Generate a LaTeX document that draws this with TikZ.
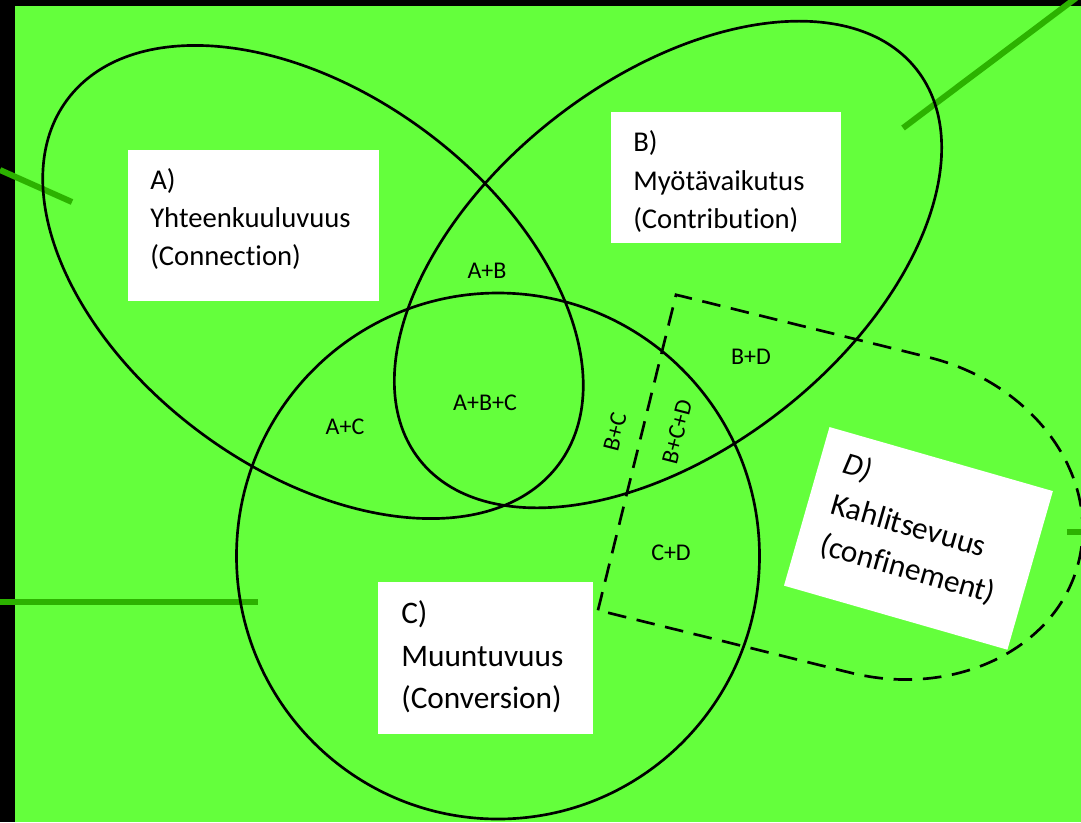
\documentclass[tikz,border=0pt]{standalone}
\usepackage{fontspec}
\setmainfont{Carlito}[Ligatures=NoCommon]
\definecolor{bggreen}{RGB}{100,255,60}
\definecolor{bargreen}{RGB}{44,178,0}
\tikzset{
  venn/.style={draw=black, line width=2pt},
  dashedset/.style={draw=black, line width=2pt, dash pattern=on 14pt off 8pt},
  greenbar/.style={draw=bargreen, line width=4.5pt},
  wbox/.style={fill=white, draw=none, inner sep=0pt},
  bigtxt/.style={inner sep=0pt, anchor=base west, font=\fontsize{21.5}{26}\selectfont},
  cdtxt/.style={inner sep=0pt, anchor=base west, font=\fontsize{23.5}{28}\selectfont},
  smalltxt/.style={inner sep=0pt, font=\fontsize{18}{22}\selectfont},
}
\begin{document}
\begin{tikzpicture}[x=0.75pt,y=-0.75pt]
\useasboundingbox (0,0) rectangle (1081,822);
\fill[bggreen] (0,0) rectangle (1081,822);
\fill[black] (0,0) rectangle (1081,6);
\fill[black] (0,0) rectangle (15,822);
\begin{scope}
\clip (0,0) rectangle (1081,822);
% green bars
\coordinate (g1a) at (0,170);   \coordinate (g1b) at (72,202);
\coordinate (g2a) at (903,128); \coordinate (g2b) at (1076,-2);
\coordinate (g3a) at (0,602);   \coordinate (g3b) at (258,602);
\coordinate (g4a) at (1067,532); \coordinate (g4b) at (1085,532);
\draw[greenbar] (g1a) -- (g1b);
\draw[greenbar] (g2a) -- (g2b);
\draw[greenbar] (g3a) -- (g3b);
\draw[greenbar] (g4a) -- (g4b);
% sets
\draw[venn, rotate around={-36.5:(313,282)}] (313,282) ellipse [x radius=306, y radius=188];
\draw[venn, rotate around={38.1:(668,264.5)}] (668,264.5) ellipse [x radius=316, y radius=185];
\draw[venn] (498,556) ellipse [x radius=261.5, y radius=263];
\begin{scope}[shift={(637,452.5)}, rotate=-13.9]
\draw[dashedset] (0,162.5) -- (0,-162.5) -- (260,-162.5)
  arc[start angle=-90, end angle=90, x radius=195, y radius=162.5] -- cycle;
\end{scope}
\end{scope}
% region labels
\node[smalltxt] (ab) at (487,271) {A+B};
\node[smalltxt] (abc) at (485,403) {A+B+C};
\node[smalltxt] (ac) at (345,427) {A+C};
\node[smalltxt] (bd) at (751,357) {B+D};
\node[smalltxt] (cd) at (671,553) {C+D};
\node[smalltxt, rotate=75.7] (bc) at (615,432) {B+C};
\node[smalltxt, rotate=75.7] (bcd) at (677,432) {B+C+D};
% box A
\node[wbox, minimum width=188.25pt, minimum height=113.25pt] (boxA) at (253.5,225.5) {};
\node[bigtxt] (a1) at (150,189) {A)};
\node[bigtxt] (a2) at (150,227) {Yhteenkuuluvuus};
\node[bigtxt] (a3) at (150,265) {(Connection)};
% box B
\node[wbox, minimum width=172.5pt, minimum height=98.25pt] (boxB) at (726,177.5) {};
\node[bigtxt] (b1) at (633,151.5) {B)};
\node[bigtxt] (b2) at (633,190) {Myötävaikutus};
\node[bigtxt] (b3) at (633,228) {(Contribution)};
% box C
\node[wbox, minimum width=161.25pt, minimum height=114pt] (boxC) at (485.5,658) {};
\node[cdtxt] (c1) at (401,623) {C)};
\node[cdtxt] (c2) at (401,666) {Muuntuvuus};
\node[cdtxt] (c3) at (401,708) {(Conversion)};
% box D
\begin{scope}[shift={(829.3,426.7)}, rotate=-16, transform shape]
\node[wbox, minimum width=174.3pt, minimum height=123.75pt, anchor=north west] (boxD) at (0,0) {};
\node[cdtxt] (dtext) at (24,41) {\vtop{\baselineskip=31.5pt\hbox{\itshape D)}\hbox{Kahlitsevuus}\hbox{(confinement)}}};
\end{scope}
\end{tikzpicture}
\end{document}
